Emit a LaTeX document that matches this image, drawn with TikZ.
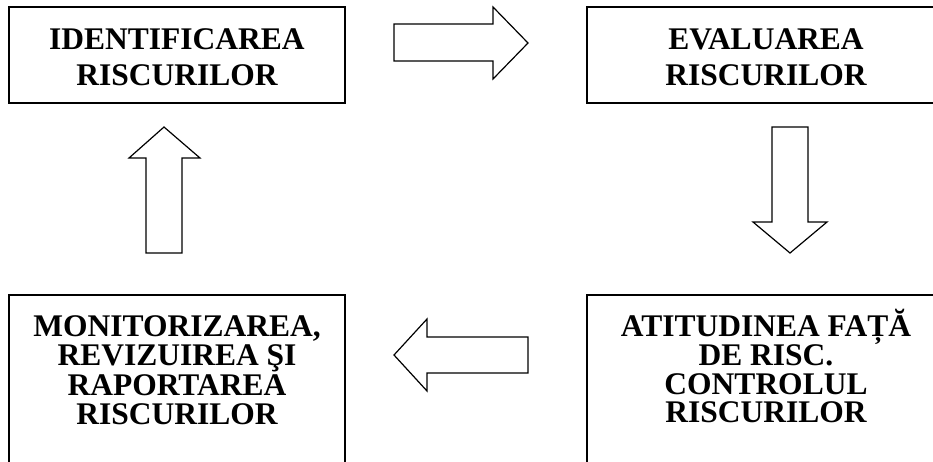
\documentclass[tikz,border=0pt]{standalone}
\usepackage{fontspec}
\setmainfont{Liberation Serif}
\usetikzlibrary{positioning}

\tikzset{
  stage/.style={draw=black, line width=1.8pt, inner sep=0pt, outer sep=0pt},
  stagetext/.style={inner sep=0pt, align=center,
    font=\bfseries\fontsize{31.5}{#1}\selectfont},
  stagetext/.default=36,
  blockarrow/.style={draw=black, line width=1.2pt, line join=miter}
}

\begin{document}
\begin{tikzpicture}[x=1pt, y=-1pt]
  \useasboundingbox (0,0) rectangle (933,461);
  \clip (0,0) rectangle (933,461);

  \node[stage, minimum width=336pt, minimum height=96pt] (ident) at (177,55) {};
  \node[stage, minimum width=358pt, minimum height=96pt] (eval) at (766,55) {};
  \node[stage, minimum width=336pt, minimum height=200pt] (monit) at (177,395) {};
  \node[stage, minimum width=358pt, minimum height=200pt] (atit) at (766,395) {};

  \node[stagetext, below=21.5pt of ident.north] (identtext) {IDENTIFICAREA\\RISCURILOR};
  \node[stagetext, below=21.5pt of eval.north] (evaltext) {EVALUAREA\\RISCURILOR};
  \node[stagetext=29.5, below=20pt of monit.north] (monittext)
    {MONITORIZAREA,\\REVIZUIREA ŞI\\RAPORTAREA\\RISCURILOR};
  \node[stagetext=28.5, below=13.5pt of atit.north] (atittext)
    {ATITUDINEA FAȚĂ\\DE RISC.\\CONTROLUL\\RISCURILOR};

  \draw[blockarrow] (394,24) -- (493,24) -- (493,7) -- (528,43) -- (493,79) -- (493,61) -- (394,61) -- cycle;
  \draw[blockarrow] (772,127) -- (772,222) -- (753,222) -- (790,253) -- (827,222) -- (808,222) -- (808,127) -- cycle;
  \draw[blockarrow] (528,337) -- (427,337) -- (427,319) -- (394,355) -- (427,391) -- (427,373) -- (528,373) -- cycle;
  \draw[blockarrow] (146,253) -- (146,158) -- (129,158) -- (164,127) -- (200,158) -- (182,158) -- (182,253) -- cycle;
\end{tikzpicture}
\end{document}
